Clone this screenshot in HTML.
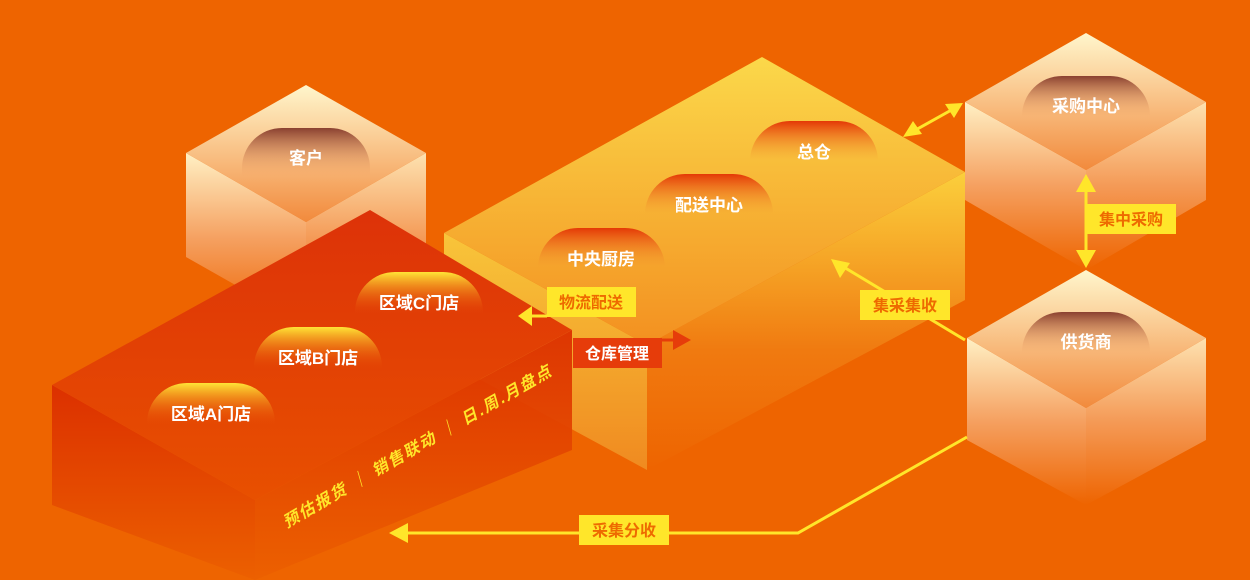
<!DOCTYPE html>
<html><head><meta charset="utf-8"><style>
html,body{margin:0;padding:0;background:#ee6400;}
svg{display:block}
text{font-family:"Liberation Sans","Noto Sans CJK SC",sans-serif;font-weight:bold;}
</style></head><body>
<svg width="1250" height="580" viewBox="0 0 1250 580" xmlns="http://www.w3.org/2000/svg">
<defs>
<linearGradient id="ctop" x1="0" y1="0" x2="0" y2="1"><stop offset="0" stop-color="#fff6cc"/><stop offset="1" stop-color="#f28a3c"/></linearGradient>
<linearGradient id="cside" x1="0" y1="0" x2="0" y2="1"><stop offset="0" stop-color="#fff0c4"/><stop offset="0.5" stop-color="#f5a060"/><stop offset="1" stop-color="#ee6400"/></linearGradient>
<linearGradient id="ytop" x1="0" y1="0" x2="0" y2="1"><stop offset="0" stop-color="#fbd84a"/><stop offset="1" stop-color="#f39020"/></linearGradient>
<linearGradient id="yside" x1="0" y1="0" x2="0" y2="1"><stop offset="0" stop-color="#fbcf3c"/><stop offset="0.6" stop-color="#f07a10"/><stop offset="1" stop-color="#ee6400"/></linearGradient>
<linearGradient id="yleft" x1="0" y1="0" x2="0" y2="1"><stop offset="0" stop-color="#f8c53a"/><stop offset="1" stop-color="#f08a20"/></linearGradient>
<linearGradient id="rtop" x1="0" y1="0" x2="0" y2="1"><stop offset="0" stop-color="#dd3208"/><stop offset="1" stop-color="#e85000"/></linearGradient>
<linearGradient id="rside" x1="0" y1="0" x2="0" y2="1"><stop offset="0" stop-color="#dc3000"/><stop offset="1" stop-color="#ec6000"/></linearGradient>
<linearGradient id="pr" x1="0" y1="0" x2="0" y2="1"><stop offset="0" stop-color="#e43806"/><stop offset="0.9" stop-color="#f29030" stop-opacity="0"/></linearGradient>
<linearGradient id="py" x1="0" y1="0" x2="0" y2="1"><stop offset="0" stop-color="#ffe436"/><stop offset="0.95" stop-color="#e85008" stop-opacity="0"/></linearGradient>
<linearGradient id="pb" x1="0" y1="0" x2="0" y2="1"><stop offset="0" stop-color="#8a4030"/><stop offset="0.95" stop-color="#f4a060" stop-opacity="0"/></linearGradient>
</defs>

<!-- cube 客户 -->
<polygon points="186,153 306,222 306,325 186,257" fill="url(#cside)"/>
<polygon points="306,222 426,153 426,257 306,325" fill="url(#cside)" opacity="0.9"/>
<polygon points="306,85 426,153 306,222 186,153" fill="url(#ctop)"/>
<path d="M242,180 V168 A40 40 0 0 1 282,128 H330 A40 40 0 0 1 370,168 V180 Z" fill="url(#pb)"/>
<text x="306" y="164" fill="#fff" font-size="17" text-anchor="middle">客户</text>

<!-- yellow big box -->
<polygon points="444,233 647,345 647,470 444,360" fill="url(#yleft)"/>
<polygon points="647,345 965,172 965,300 647,470" fill="url(#yside)"/>
<polygon points="762,57 965,172 647,345 444,233" fill="url(#ytop)"/>
<path d="M750,165 V161 A40 40 0 0 1 790,121 H838 A40 40 0 0 1 878,161 V165 Z" fill="url(#pr)"/>
<text x="814" y="158" fill="#fff" font-size="17" text-anchor="middle">总仓</text>
<path d="M645,218 V214 A40 40 0 0 1 685,174 H733 A40 40 0 0 1 773,214 V218 Z" fill="url(#pr)"/>
<text x="709" y="211" fill="#fff" font-size="17" text-anchor="middle">配送中心</text>
<path d="M538,272 V268 A40 40 0 0 1 578,228 H625 A40 40 0 0 1 665,268 V272 Z" fill="url(#pr)"/>
<text x="601" y="265" fill="#fff" font-size="17" text-anchor="middle">中央厨房</text>

<!-- cube 采购中心 -->
<polygon points="965,102 1086,170 1086,270 965,200" fill="url(#cside)"/>
<polygon points="1086,170 1206,102 1206,200 1086,270" fill="url(#cside)" opacity="0.9"/>
<polygon points="1086,33 1206,102 1086,170 965,102" fill="url(#ctop)"/>
<path d="M1022,120 V116 A40 40 0 0 1 1062,76 H1110 A40 40 0 0 1 1150,116 V120 Z" fill="url(#pb)"/>
<text x="1086" y="112" fill="#fff" font-size="17" text-anchor="middle">采购中心</text>

<!-- cube 供货商 -->
<polygon points="967,338 1086,408 1086,505 967,440" fill="url(#cside)"/>
<polygon points="1086,408 1206,338 1206,440 1086,505" fill="url(#cside)" opacity="0.9"/>
<polygon points="1086,270 1206,338 1086,408 967,338" fill="url(#ctop)"/>
<path d="M1022,356 V352 A40 40 0 0 1 1062,312 H1110 A40 40 0 0 1 1150,352 V356 Z" fill="url(#pb)"/>
<text x="1086" y="348" fill="#fff" font-size="17" text-anchor="middle">供货商</text>

<!-- red box -->
<polygon points="52,385 255,500 255,580 52,505" fill="url(#rside)"/>
<polygon points="255,500 572,330 572,450 255,580" fill="url(#rside)" opacity="0.95"/>
<polygon points="370,210 572,330 255,500 52,385" fill="url(#rtop)"/>
<path d="M355,316 V312 A40 40 0 0 1 395,272 H443 A40 40 0 0 1 483,312 V316 Z" fill="url(#py)"/>
<text x="419" y="309" fill="#fff" font-size="17" text-anchor="middle">区域C门店</text>
<path d="M254,371 V367 A40 40 0 0 1 294,327 H342 A40 40 0 0 1 382,367 V371 Z" fill="url(#py)"/>
<text x="318" y="364" fill="#fff" font-size="17" text-anchor="middle">区域B门店</text>
<path d="M147,427 V423 A40 40 0 0 1 187,383 H235 A40 40 0 0 1 275,423 V427 Z" fill="url(#py)"/>
<text x="211" y="420" fill="#fff" font-size="17" text-anchor="middle">区域A门店</text>
<g transform="translate(419,446) rotate(-30) skewX(-14)">
<text x="0" y="5" fill="#ffe62a" font-size="16" letter-spacing="2" text-anchor="middle" xml:space="preserve">预估报货 ｜ 销售联动 ｜ 日.周.月盘点</text>
</g>

<!-- connectors -->
<g stroke="#ffe62a" stroke-width="3" fill="none">
<line x1="912" y1="132" x2="955" y2="108"/>
<line x1="1086" y1="186" x2="1086" y2="256"/>
<line x1="965" y1="340" x2="842" y2="266"/>
<polyline points="967,437 798,533 402,533"/>
<line x1="547" y1="316" x2="530" y2="316"/>
</g>
<g fill="#ffe62a">
<polygon points="903,137 913,121 922,134"/>
<polygon points="963,103 945,104 954,118"/>
<polygon points="1086,174 1076,192 1096,192"/>
<polygon points="1086,268 1076,250 1096,250"/>
<polygon points="831,259 850,263 840,278"/>
<polygon points="389,533 408,523 408,543"/>
<polygon points="518,316 532,306 532,326"/>
</g>
<line x1="662" y1="340" x2="675" y2="340" stroke="#e63c0a" stroke-width="3"/>
<polygon points="691,340 673,330 673,350" fill="#e63c0a"/>

<!-- labels -->
<rect x="547" y="287" width="89" height="30" fill="#ffe62a"/>
<text x="591" y="308" fill="#ee6a00" font-size="16" text-anchor="middle">物流配送</text>
<rect x="573" y="338" width="89" height="30" fill="#e63c0a"/>
<text x="617" y="359" fill="#fff" font-size="16" text-anchor="middle">仓库管理</text>
<rect x="860" y="290" width="90" height="30" fill="#ffe62a"/>
<text x="905" y="311" fill="#ee6a00" font-size="16" text-anchor="middle">集采集收</text>
<rect x="1086" y="204" width="90" height="30" fill="#ffe62a"/>
<text x="1131" y="225" fill="#ee6a00" font-size="16" text-anchor="middle">集中采购</text>
<rect x="579" y="515" width="90" height="30" fill="#ffe62a"/>
<text x="624" y="536" fill="#ee6a00" font-size="16" text-anchor="middle">采集分收</text>
</svg>
</body></html>
